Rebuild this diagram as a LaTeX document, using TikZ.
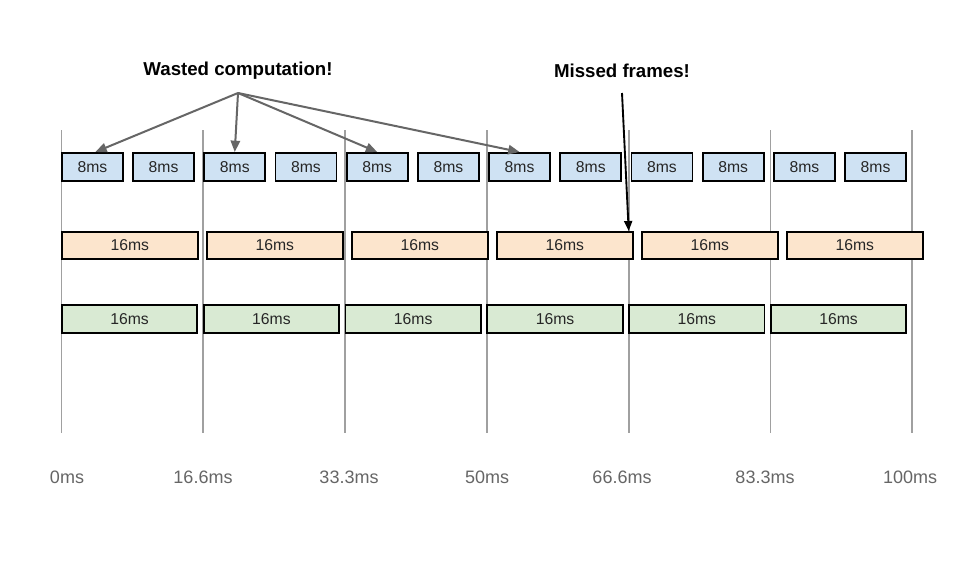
\documentclass[tikz,border=0pt]{standalone}
\usepackage{fontspec}
\setmainfont{Liberation Sans}
\usetikzlibrary{arrows.meta,calc}
\definecolor{bluefill}{HTML}{CFE2F3}
\definecolor{orangefill}{HTML}{FCE5CD}
\definecolor{greenfill}{HTML}{D9EAD3}
\definecolor{gridgrey}{HTML}{A0A0A0}
\definecolor{arrowgrey}{HTML}{666666}
\definecolor{labelgrey}{HTML}{666666}
\begin{document}
\begin{tikzpicture}[x=0.75pt,y=-0.75pt,
  box/.style={draw=black,line width=1.3pt,inner sep=0pt,anchor=north west,
    font=\fontsize{11.8}{13}\selectfont,text=black!85},
  bluebox/.style={box,fill=bluefill,minimum width=45.75pt,minimum height=21pt},
  orangebox/.style={box,fill=orangefill,minimum width=102pt,minimum height=20.25pt},
  greenbox/.style={box,fill=greenfill,minimum width=101.6pt,minimum height=21pt},
  gridline/.style={draw=gridgrey,line width=1.3pt},
  timelabel/.style={font=\fontsize{13.5}{16}\selectfont,text=labelgrey,inner sep=0pt},
  title/.style={font=\fontsize{14}{16}\selectfont\bfseries,text=black,inner sep=0pt},
  warrow/.style={draw=arrowgrey,line width=1.5pt,-{Triangle[length=8.5pt,width=7pt]}},
  marrow/.style={draw=black,line width=1.4pt,-{Triangle[length=7.5pt,width=6pt]}}]
\useasboundingbox[fill=white] (0,0) rectangle (959,560);
% vertical grid lines
\foreach \i in {0,...,6}{
  \coordinate (t\i) at ({61.5+141.8*\i},130);
  \coordinate (u\i) at ({61.5+141.8*\i},433);
  \draw[gridline] (t\i) -- (u\i);
}
% blue boxes
\foreach \i in {0,...,11}{
  \node[bluebox] (b\i) at ({61+71.2*\i},152) {8ms};
}
% orange boxes
\foreach \i in {0,...,5}{
  \node[orangebox] (o\i) at ({61+145*\i},231) {16ms};
}
% green boxes
\foreach \i in {0,...,5}{
  \node[greenbox] (g\i) at ({61+141.8*\i},304) {16ms};
}
% time labels
\foreach \x/\t [count=\n from 0] in {67/0ms,203/16.6ms,349/33.3ms,487/50ms,622/66.6ms,765/83.3ms,910/100ms}{
  \node[timelabel] (tl\n) at (\x,477) {\t};
}
% titles
\node[title] (wt) at (238,71) {Wasted computation!};
\node[title] (mt) at (622,71) {Missed frames!};
% arrows
\coordinate (wsrc) at (238,93);
\draw[warrow] (wsrc) -- ($(b0.north)+(3,0)$);
\draw[warrow] (wsrc) -- (b2.north);
\draw[warrow] (wsrc) -- (b4.north);
\draw[warrow] (wsrc) -- (b6.north);
\coordinate (msrc) at (622,93);
\draw[marrow] (msrc) -- (t4 |- o3.north);
\end{tikzpicture}
\end{document}
